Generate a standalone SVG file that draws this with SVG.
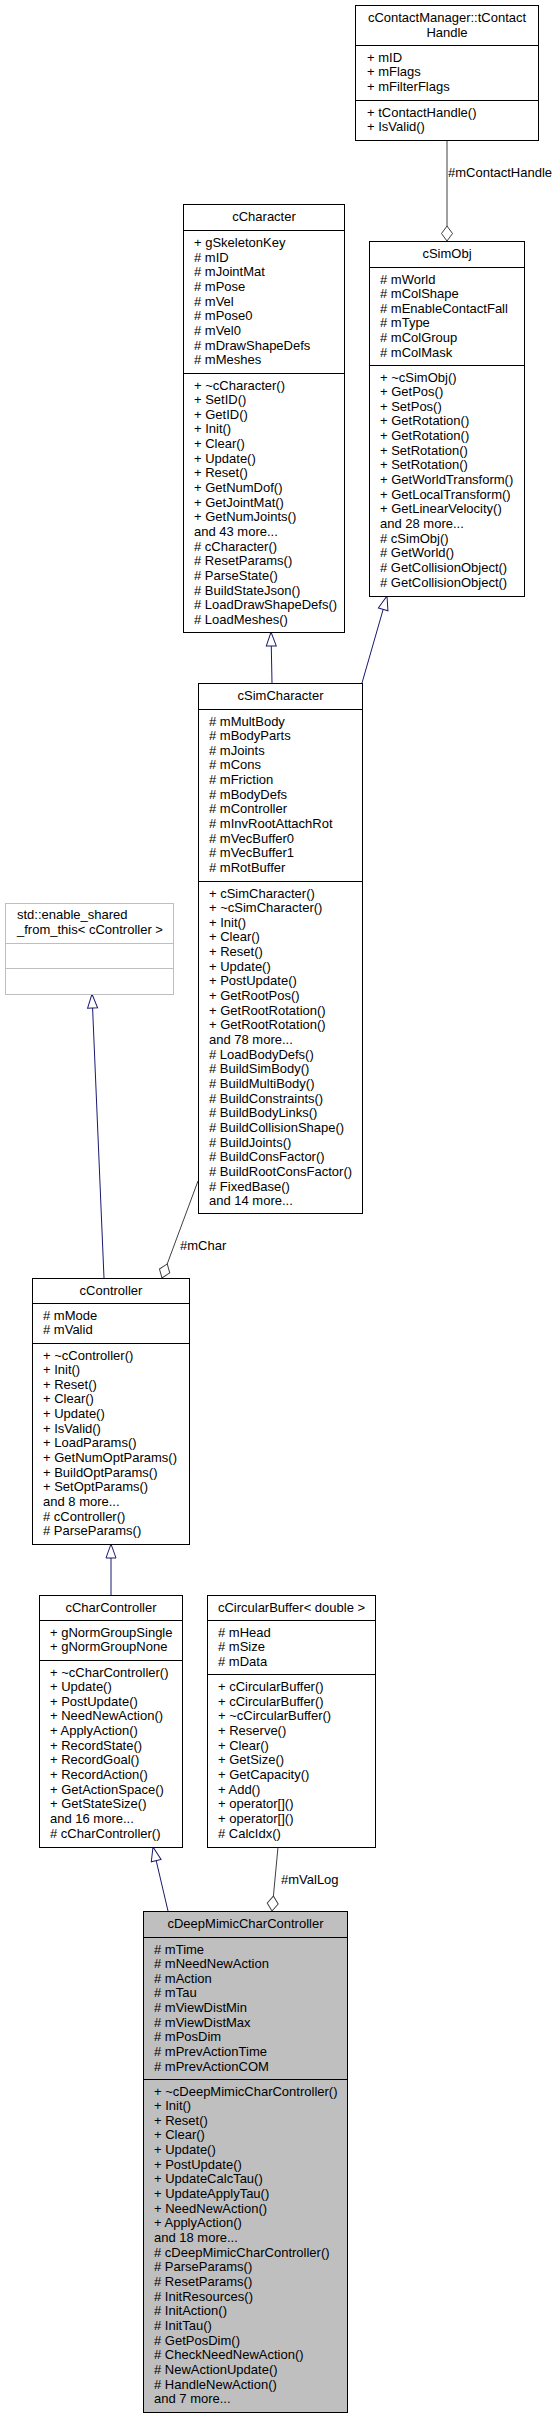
<svg xmlns="http://www.w3.org/2000/svg" width="560" height="2419" viewBox="0 0 560 2419">
<style>
text{font-family:"Liberation Sans",Arial,sans-serif;font-size:13px;fill:#000}
.t{text-anchor:middle}
.box{fill:#fff;stroke:#000;stroke-width:1}
.gbox{fill:#fff;stroke:#bfbfbf;stroke-width:1}
.sel{fill:#bfbfbf;stroke:#000;stroke-width:1}
.dv{stroke:#000;stroke-width:1}
.gdv{stroke:#bfbfbf;stroke-width:1}
.inh{fill:none;stroke:#191970;stroke-width:1;marker-end:url(#mInh)}
.agg{fill:none;stroke:#404040;stroke-width:1;marker-end:url(#mAgg)}
</style>
<defs>
<marker id="mInh" markerUnits="userSpaceOnUse" markerWidth="16" markerHeight="12" refX="14" refY="5" orient="auto" overflow="visible"><path d="M0,0 L14,5 L0,10 z" fill="#fff" stroke="#191970" stroke-width="1"/></marker>
<marker id="mAgg" markerUnits="userSpaceOnUse" markerWidth="16" markerHeight="12" refX="15" refY="5.5" orient="auto" overflow="visible"><path d="M0,5.5 L7.5,0 L15,5.5 L7.5,11 z" fill="#fff" stroke="#404040" stroke-width="1"/></marker>
</defs>
<rect x="0" y="0" width="560" height="2419" fill="#fff"/>

<g id="connectors">
<path class="inh" d="M362,683 L387,596"/>
<path class="inh" d="M272,683 L271,632"/>
<path class="inh" d="M104,1278 L92,994"/>
<path class="inh" d="M111,1595 L111,1544"/>
<path class="inh" d="M168,1911 L153,1847"/>
<path class="agg" d="M447,140 L447,241"/>
<path class="agg" d="M198,1181 L162,1278"/>
<path class="agg" d="M278,1847 L272,1911"/>
<text x="448" y="177">#mContactHandle</text>
<text x="180" y="1250">#mChar</text>
<text x="281" y="1884">#mValLog</text>
</g>

<g id="tContactHandle">
<rect class="box" x="355.5" y="5.5" width="183" height="135"/>
<line class="dv" x1="355.5" y1="45.5" x2="538.5" y2="45.5"/>
<line class="dv" x1="355.5" y1="100.5" x2="538.5" y2="100.5"/>
<text class="t" x="447" y="22">cContactManager::tContact</text>
<text class="t" x="447" y="36.5">Handle</text>
<text x="367" y="61.5">+ mID<tspan x="367" dy="14.65">+ mFlags</tspan><tspan x="367" dy="14.65">+ mFilterFlags</tspan></text>
<text x="367" y="116.5">+ tContactHandle()<tspan x="367" dy="14.65">+ IsValid()</tspan></text>
</g>

<g id="cSimObj">
<rect class="box" x="369.5" y="241.5" width="155" height="355"/>
<line class="dv" x1="369.5" y1="267.5" x2="524.5" y2="267.5"/>
<line class="dv" x1="369.5" y1="365.5" x2="524.5" y2="365.5"/>
<text class="t" x="447" y="257.5">cSimObj</text>
<text x="380" y="283.5"># mWorld<tspan x="380" dy="14.65"># mColShape</tspan><tspan x="380" dy="14.65"># mEnableContactFall</tspan><tspan x="380" dy="14.65"># mType</tspan><tspan x="380" dy="14.65"># mColGroup</tspan><tspan x="380" dy="14.65"># mColMask</tspan></text>
<text x="380" y="381.5">+ ~cSimObj()<tspan x="380" dy="14.65">+ GetPos()</tspan><tspan x="380" dy="14.65">+ SetPos()</tspan><tspan x="380" dy="14.65">+ GetRotation()</tspan><tspan x="380" dy="14.65">+ GetRotation()</tspan><tspan x="380" dy="14.65">+ SetRotation()</tspan><tspan x="380" dy="14.65">+ SetRotation()</tspan><tspan x="380" dy="14.65">+ GetWorldTransform()</tspan><tspan x="380" dy="14.65">+ GetLocalTransform()</tspan><tspan x="380" dy="14.65">+ GetLinearVelocity()</tspan><tspan x="380" dy="14.65">and 28 more...</tspan><tspan x="380" dy="14.65"># cSimObj()</tspan><tspan x="380" dy="14.65"># GetWorld()</tspan><tspan x="380" dy="14.65"># GetCollisionObject()</tspan><tspan x="380" dy="14.65"># GetCollisionObject()</tspan></text>
</g>

<g id="cCharacter">
<rect class="box" x="183.5" y="204.5" width="161" height="428"/>
<line class="dv" x1="183.5" y1="230.5" x2="344.5" y2="230.5"/>
<line class="dv" x1="183.5" y1="373.5" x2="344.5" y2="373.5"/>
<text class="t" x="264" y="220.5">cCharacter</text>
<text x="194" y="247">+ gSkeletonKey<tspan x="194" dy="14.65"># mID</tspan><tspan x="194" dy="14.65"># mJointMat</tspan><tspan x="194" dy="14.65"># mPose</tspan><tspan x="194" dy="14.65"># mVel</tspan><tspan x="194" dy="14.65"># mPose0</tspan><tspan x="194" dy="14.65"># mVel0</tspan><tspan x="194" dy="14.65"># mDrawShapeDefs</tspan><tspan x="194" dy="14.65"># mMeshes</tspan></text>
<text x="194" y="389.5">+ ~cCharacter()<tspan x="194" dy="14.65">+ SetID()</tspan><tspan x="194" dy="14.65">+ GetID()</tspan><tspan x="194" dy="14.65">+ Init()</tspan><tspan x="194" dy="14.65">+ Clear()</tspan><tspan x="194" dy="14.65">+ Update()</tspan><tspan x="194" dy="14.65">+ Reset()</tspan><tspan x="194" dy="14.65">+ GetNumDof()</tspan><tspan x="194" dy="14.65">+ GetJointMat()</tspan><tspan x="194" dy="14.65">+ GetNumJoints()</tspan><tspan x="194" dy="14.65">and 43 more...</tspan><tspan x="194" dy="14.65"># cCharacter()</tspan><tspan x="194" dy="14.65"># ResetParams()</tspan><tspan x="194" dy="14.65"># ParseState()</tspan><tspan x="194" dy="14.65"># BuildStateJson()</tspan><tspan x="194" dy="14.65"># LoadDrawShapeDefs()</tspan><tspan x="194" dy="14.65"># LoadMeshes()</tspan></text>
</g>

<g id="cSimCharacter">
<rect class="box" x="198.5" y="683.5" width="164" height="530"/>
<line class="dv" x1="198.5" y1="709.5" x2="362.5" y2="709.5"/>
<line class="dv" x1="198.5" y1="881.5" x2="362.5" y2="881.5"/>
<text class="t" x="280.5" y="699.5">cSimCharacter</text>
<text x="209" y="725.5"># mMultBody<tspan x="209" dy="14.65"># mBodyParts</tspan><tspan x="209" dy="14.65"># mJoints</tspan><tspan x="209" dy="14.65"># mCons</tspan><tspan x="209" dy="14.65"># mFriction</tspan><tspan x="209" dy="14.65"># mBodyDefs</tspan><tspan x="209" dy="14.65"># mController</tspan><tspan x="209" dy="14.65"># mInvRootAttachRot</tspan><tspan x="209" dy="14.65"># mVecBuffer0</tspan><tspan x="209" dy="14.65"># mVecBuffer1</tspan><tspan x="209" dy="14.65"># mRotBuffer</tspan></text>
<text x="209" y="897.5">+ cSimCharacter()<tspan x="209" dy="14.65">+ ~cSimCharacter()</tspan><tspan x="209" dy="14.65">+ Init()</tspan><tspan x="209" dy="14.65">+ Clear()</tspan><tspan x="209" dy="14.65">+ Reset()</tspan><tspan x="209" dy="14.65">+ Update()</tspan><tspan x="209" dy="14.65">+ PostUpdate()</tspan><tspan x="209" dy="14.65">+ GetRootPos()</tspan><tspan x="209" dy="14.65">+ GetRootRotation()</tspan><tspan x="209" dy="14.65">+ GetRootRotation()</tspan><tspan x="209" dy="14.65">and 78 more...</tspan><tspan x="209" dy="14.65"># LoadBodyDefs()</tspan><tspan x="209" dy="14.65"># BuildSimBody()</tspan><tspan x="209" dy="14.65"># BuildMultiBody()</tspan><tspan x="209" dy="14.65"># BuildConstraints()</tspan><tspan x="209" dy="14.65"># BuildBodyLinks()</tspan><tspan x="209" dy="14.65"># BuildCollisionShape()</tspan><tspan x="209" dy="14.65"># BuildJoints()</tspan><tspan x="209" dy="14.65"># BuildConsFactor()</tspan><tspan x="209" dy="14.65"># BuildRootConsFactor()</tspan><tspan x="209" dy="14.65"># FixedBase()</tspan><tspan x="209" dy="14.65">and 14 more...</tspan></text>
</g>

<g id="enable_shared_from_this">
<rect class="gbox" x="5.5" y="903.5" width="168" height="91"/>
<line class="gdv" x1="5.5" y1="943.5" x2="173.5" y2="943.5"/>
<line class="gdv" x1="5.5" y1="968.5" x2="173.5" y2="968.5"/>
<text x="17" y="919">std::enable_shared</text>
<text x="17" y="933.5">_from_this&lt; cController &gt;</text>
</g>

<g id="cController">
<rect class="box" x="32.5" y="1278.5" width="157" height="266"/>
<line class="dv" x1="32.5" y1="1303.5" x2="189.5" y2="1303.5"/>
<line class="dv" x1="32.5" y1="1343.5" x2="189.5" y2="1343.5"/>
<text class="t" x="111" y="1294.5">cController</text>
<text x="43" y="1319.5"># mMode<tspan x="43" dy="14.65"># mValid</tspan></text>
<text x="43" y="1359.5">+ ~cController()<tspan x="43" dy="14.65">+ Init()</tspan><tspan x="43" dy="14.65">+ Reset()</tspan><tspan x="43" dy="14.65">+ Clear()</tspan><tspan x="43" dy="14.65">+ Update()</tspan><tspan x="43" dy="14.65">+ IsValid()</tspan><tspan x="43" dy="14.65">+ LoadParams()</tspan><tspan x="43" dy="14.65">+ GetNumOptParams()</tspan><tspan x="43" dy="14.65">+ BuildOptParams()</tspan><tspan x="43" dy="14.65">+ SetOptParams()</tspan><tspan x="43" dy="14.65">and 8 more...</tspan><tspan x="43" dy="14.65"># cController()</tspan><tspan x="43" dy="14.65"># ParseParams()</tspan></text>
</g>

<g id="cCharController">
<rect class="box" x="39.5" y="1595.5" width="143" height="252"/>
<line class="dv" x1="39.5" y1="1620.5" x2="182.5" y2="1620.5"/>
<line class="dv" x1="39.5" y1="1660.5" x2="182.5" y2="1660.5"/>
<text class="t" x="111" y="1611.5">cCharController</text>
<text x="50" y="1636.5">+ gNormGroupSingle<tspan x="50" dy="14.65">+ gNormGroupNone</tspan></text>
<text x="50" y="1676.5">+ ~cCharController()<tspan x="50" dy="14.65">+ Update()</tspan><tspan x="50" dy="14.65">+ PostUpdate()</tspan><tspan x="50" dy="14.65">+ NeedNewAction()</tspan><tspan x="50" dy="14.65">+ ApplyAction()</tspan><tspan x="50" dy="14.65">+ RecordState()</tspan><tspan x="50" dy="14.65">+ RecordGoal()</tspan><tspan x="50" dy="14.65">+ RecordAction()</tspan><tspan x="50" dy="14.65">+ GetActionSpace()</tspan><tspan x="50" dy="14.65">+ GetStateSize()</tspan><tspan x="50" dy="14.65">and 16 more...</tspan><tspan x="50" dy="14.65"># cCharController()</tspan></text>
</g>

<g id="cCircularBuffer">
<rect class="box" x="207.5" y="1595.5" width="168" height="252"/>
<line class="dv" x1="207.5" y1="1620.5" x2="375.5" y2="1620.5"/>
<line class="dv" x1="207.5" y1="1674.5" x2="375.5" y2="1674.5"/>
<text class="t" x="291.5" y="1611.5">cCircularBuffer&lt; double &gt;</text>
<text x="218" y="1636.5"># mHead<tspan x="218" dy="14.65"># mSize</tspan><tspan x="218" dy="14.65"># mData</tspan></text>
<text x="218" y="1691">+ cCircularBuffer()<tspan x="218" dy="14.65">+ cCircularBuffer()</tspan><tspan x="218" dy="14.65">+ ~cCircularBuffer()</tspan><tspan x="218" dy="14.65">+ Reserve()</tspan><tspan x="218" dy="14.65">+ Clear()</tspan><tspan x="218" dy="14.65">+ GetSize()</tspan><tspan x="218" dy="14.65">+ GetCapacity()</tspan><tspan x="218" dy="14.65">+ Add()</tspan><tspan x="218" dy="14.65">+ operator[]()</tspan><tspan x="218" dy="14.65">+ operator[]()</tspan><tspan x="218" dy="14.65"># CalcIdx()</tspan></text>
</g>

<g id="cDeepMimicCharController">
<rect class="sel" x="143.5" y="1911.5" width="204" height="501"/>
<line class="dv" x1="143.5" y1="1937.5" x2="347.5" y2="1937.5"/>
<line class="dv" x1="143.5" y1="2079.5" x2="347.5" y2="2079.5"/>
<text class="t" x="245.5" y="1927.5">cDeepMimicCharController</text>
<text x="154" y="1953.5"># mTime<tspan x="154" dy="14.65"># mNeedNewAction</tspan><tspan x="154" dy="14.65"># mAction</tspan><tspan x="154" dy="14.65"># mTau</tspan><tspan x="154" dy="14.65"># mViewDistMin</tspan><tspan x="154" dy="14.65"># mViewDistMax</tspan><tspan x="154" dy="14.65"># mPosDim</tspan><tspan x="154" dy="14.65"># mPrevActionTime</tspan><tspan x="154" dy="14.65"># mPrevActionCOM</tspan></text>
<text x="154" y="2095.5">+ ~cDeepMimicCharController()<tspan x="154" dy="14.65">+ Init()</tspan><tspan x="154" dy="14.65">+ Reset()</tspan><tspan x="154" dy="14.65">+ Clear()</tspan><tspan x="154" dy="14.65">+ Update()</tspan><tspan x="154" dy="14.65">+ PostUpdate()</tspan><tspan x="154" dy="14.65">+ UpdateCalcTau()</tspan><tspan x="154" dy="14.65">+ UpdateApplyTau()</tspan><tspan x="154" dy="14.65">+ NeedNewAction()</tspan><tspan x="154" dy="14.65">+ ApplyAction()</tspan><tspan x="154" dy="14.65">and 18 more...</tspan><tspan x="154" dy="14.65"># cDeepMimicCharController()</tspan><tspan x="154" dy="14.65"># ParseParams()</tspan><tspan x="154" dy="14.65"># ResetParams()</tspan><tspan x="154" dy="14.65"># InitResources()</tspan><tspan x="154" dy="14.65"># InitAction()</tspan><tspan x="154" dy="14.65"># InitTau()</tspan><tspan x="154" dy="14.65"># GetPosDim()</tspan><tspan x="154" dy="14.65"># CheckNeedNewAction()</tspan><tspan x="154" dy="14.65"># NewActionUpdate()</tspan><tspan x="154" dy="14.65"># HandleNewAction()</tspan><tspan x="154" dy="14.65">and 7 more...</tspan></text>
</g>
</svg>
